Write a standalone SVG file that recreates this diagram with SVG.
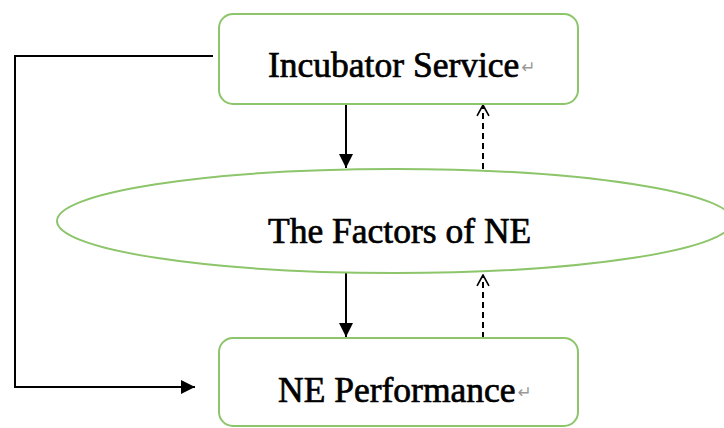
<svg xmlns="http://www.w3.org/2000/svg" width="724" height="428" viewBox="0 0 724 428">
<style>
.box{fill:#fff;stroke:#8cc56a;stroke-width:2}
.lbl{font-family:"Liberation Serif","Times New Roman",serif;font-size:35.5px;fill:#000;stroke:#000;stroke-width:0.7}
.ret{font-family:"DejaVu Sans",sans-serif;font-size:17px;fill:#999;stroke:none}
.ln{fill:none;stroke:#000;stroke-width:2}
.dash{fill:none;stroke:#000;stroke-width:2;stroke-dasharray:6,4}
</style>
<defs>
<marker id="solidB" viewBox="0 0 10 10" refX="10" refY="5" markerWidth="14" markerHeight="14" markerUnits="userSpaceOnUse" orient="auto">
<path d="M0,0 L10,5 L0,10 z" fill="#000"/>
</marker>
<marker id="open" viewBox="0 0 12 12" refX="11" refY="6" markerWidth="13" markerHeight="16" markerUnits="userSpaceOnUse" orient="auto">
<path d="M1,0.5 L11,6 L1,11.5" fill="none" stroke="#000" stroke-width="1.5"/>
</marker>
</defs>
<rect width="724" height="428" fill="#fff"/>
<g id="connectors">
<path class="ln" d="M213,56 H15 V387 H195" marker-end="url(#solidB)"/>
<path class="ln" d="M346,104 V168" marker-end="url(#solidB)"/>
<path class="dash" d="M483,169 V105" marker-end="url(#open)"/>
<path class="ln" d="M346,273 V337" marker-end="url(#solidB)"/>
<path class="dash" d="M483,338 V275" marker-end="url(#open)"/>
</g>
<g id="incubator">
<rect class="box" x="219" y="14" width="359" height="90" rx="14"/>
<text class="lbl" x="268" y="77">Incubator Service<tspan class="ret" dx="2" dy="-4">↵</tspan></text>
</g>
<g id="factors">
<ellipse cx="395" cy="221" rx="338" ry="52" fill="#fff" stroke="#8cc56a" stroke-width="2"/>
<text class="lbl" x="268" y="243">The Factors of NE</text>
</g>
<g id="performance">
<rect class="box" x="219" y="338" width="359" height="88" rx="14"/>
<text class="lbl" x="278" y="402">NE Performance<tspan class="ret" dx="2" dy="-4">↵</tspan></text>
</g>
</svg>
